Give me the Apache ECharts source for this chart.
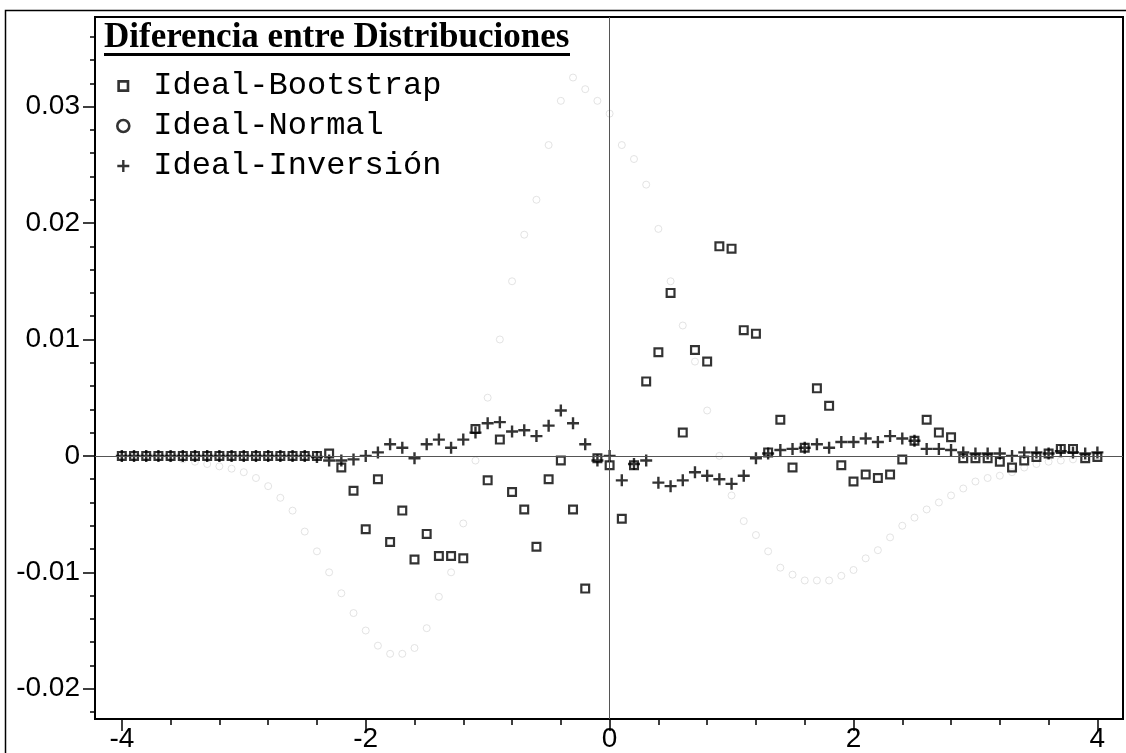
<!DOCTYPE html>
<html>
<head>
<meta charset="utf-8">
<title>Diferencia entre Distribuciones</title>
<script src="https://cdn.jsdelivr.net/npm/echarts@6/dist/echarts.min.js"></script>
<style>
  html, body { margin: 0; padding: 0; background: #fff; }
  #chart { width: 1126px; height: 753px; }
</style>
</head>
<body>
<div id="chart"></div>
<script>
// Sample grid shared by the three difference series
const xValues = [
  -4.0, -3.9, -3.8, -3.7, -3.6, -3.5, -3.4, -3.3, -3.2, -3.1,
  -3.0, -2.9, -2.8, -2.7, -2.6, -2.5, -2.4, -2.3, -2.2, -2.1,
  -2.0, -1.9, -1.8, -1.7, -1.6, -1.5, -1.4, -1.3, -1.2, -1.1,
  -1.0, -0.9, -0.8, -0.7, -0.6, -0.5, -0.4, -0.3, -0.2, -0.1,
   0.0,  0.1,  0.2,  0.3,  0.4,  0.5,  0.6,  0.7,  0.8,  0.9,
   1.0,  1.1,  1.2,  1.3,  1.4,  1.5,  1.6,  1.7,  1.8,  1.9,
   2.0,  2.1,  2.2,  2.3,  2.4,  2.5,  2.6,  2.7,  2.8,  2.9,
   3.0,  3.1,  3.2,  3.3,  3.4,  3.5,  3.6,  3.7,  3.8,  3.9,
   4.0
];

// Ideal - Bootstrap
const idealBootstrap = [
   0.0000,  0.0000,  0.0000,  0.0000,  0.0000,  0.0000,  0.0000,  0.0000,  0.0000,  0.0000,
   0.0000,  0.0000,  0.0000,  0.0000,  0.0000,  0.0000,  0.0000,  0.0002, -0.0010, -0.0030,
  -0.0063, -0.0020, -0.0074, -0.0047, -0.0089, -0.0067, -0.0086, -0.0086, -0.0088,  0.0023,
  -0.0021,  0.0014, -0.0031, -0.0046, -0.0078, -0.0020, -0.0004, -0.0046, -0.0114, -0.0002,
  -0.0008, -0.0054, -0.0008,  0.0064,  0.0089,  0.0140,  0.0020,  0.0091,  0.0081,  0.0180,
   0.0178,  0.0108,  0.0105,  0.0003,  0.0031, -0.0010,  0.0007,  0.0058,  0.0043, -0.0008,
  -0.0022, -0.0016, -0.0019, -0.0016, -0.0003,  0.0013,  0.0031,  0.0020,  0.0016, -0.0002,
  -0.0002, -0.0002, -0.0005, -0.0010, -0.0004, -0.0001,  0.0002,  0.0006,  0.0006, -0.0002,
  -0.0001
];

// Ideal - Normal
const idealNormal = [
   0.0000,  0.0000,  0.0000, -0.0001, -0.0002, -0.0003, -0.0005, -0.0007, -0.0009, -0.0011,
  -0.0014, -0.0019, -0.0026, -0.0036, -0.0047, -0.0065, -0.0082, -0.0100, -0.0118, -0.0135,
  -0.0150, -0.0163, -0.0170, -0.0170, -0.0165, -0.0148, -0.0121, -0.0100, -0.0058, -0.0004,
   0.0050,  0.0100,  0.0150,  0.0190,  0.0220,  0.0267,  0.0305,  0.0325,  0.0315,  0.0305,
   0.0294,  0.0267,  0.0255,  0.0233,  0.0195,  0.0150,  0.0112,  0.0081,  0.0039,  0.0000,
  -0.0034, -0.0056, -0.0068, -0.0082, -0.0096, -0.0102, -0.0107, -0.0107, -0.0107, -0.0103,
  -0.0098, -0.0088, -0.0081, -0.0070, -0.0060, -0.0053, -0.0046, -0.0040, -0.0034, -0.0028,
  -0.0022, -0.0019, -0.0017, -0.0014, -0.0010, -0.0007, -0.0005, -0.0004, -0.0003, -0.0001,
   0.0000
];

// Ideal - Inversión
const idealInversion = [
   0.0000,  0.0000,  0.0000,  0.0000,  0.0000,  0.0000,  0.0000,  0.0000,  0.0000,  0.0000,
   0.0000,  0.0000,  0.0000,  0.0000,  0.0000,  0.0000, -0.0001, -0.0004, -0.0004, -0.0003,
   0.0000,  0.0003,  0.0010,  0.0007, -0.0002,  0.0010,  0.0014,  0.0007,  0.0014,  0.0020,
   0.0028,  0.0029,  0.0021,  0.0022,  0.0017,  0.0026,  0.0039,  0.0028,  0.0010, -0.0004,
   0.0000, -0.0021, -0.0007, -0.0004, -0.0023, -0.0026, -0.0021, -0.0014, -0.0017, -0.0020,
  -0.0024, -0.0017, -0.0002,  0.0002,  0.0005,  0.0006,  0.0007,  0.0010,  0.0007,  0.0012,
   0.0012,  0.0015,  0.0012,  0.0017,  0.0015,  0.0013,  0.0006,  0.0006,  0.0005,  0.0003,
   0.0002,  0.0002,  0.0002,  0.0000,  0.0003,  0.0003,  0.0002,  0.0004,  0.0003,  0.0002,
   0.0003
];

const seriesNames = ['Ideal-Bootstrap', 'Ideal-Normal', 'Ideal-Inversión'];

// Axis ticks and labels
const xMajorTicks = [-4, -2, 0, 2, 4];
const xTickLabels = ['-4', '-2', '0', '2', '4'];
const xMinorTicks = [-4, -3.6, -3.2, -2.8, -2.4, -2, -1.6, -1.2, -0.8, -0.4, 0,
                     0.4, 0.8, 1.2, 1.6, 2, 2.4, 2.8, 3.2, 3.6, 4];
const yMajorTicks = [-0.02, -0.01, 0, 0.01, 0.02, 0.03];
const yTickLabels = ['-0.02', '-0.01', '0', '0.01', '0.02', '0.03'];
const yMinorTicks = [-0.022, -0.02, -0.018, -0.016, -0.014, -0.012, -0.01, -0.008, -0.006,
                     -0.004, -0.002, 0, 0.002, 0.004, 0.006, 0.008, 0.01, 0.012, 0.014,
                     0.016, 0.018, 0.02, 0.022, 0.024, 0.026, 0.028, 0.03, 0.032, 0.034, 0.036];

const X_MIN = -4.22, X_MAX = 4.21;
const Y_MIN = -0.0226, Y_MAX = 0.0377;

const pairs = (ys) => xValues.map((x, i) => [x, ys[i]]);

// hollow square and plus glyphs used as point markers
const SQUARE = 'path://M0,0H10V10H0Z M2.2,2.2V7.8H7.8V2.2H2.2Z';
const PLUS = 'path://M4,0H6V4H10V6H6V10H4V6H0V4H4Z';

const labelFont = { fontFamily: 'Liberation Sans, Arial, sans-serif', fontSize: 28, color: '#000' };

const chart = echarts.init(document.getElementById('chart'), null, { renderer: 'canvas' });

chart.setOption({
  animation: false,
  backgroundColor: '#fff',
  title: {
    text: 'Diferencia entre Distribuciones',
    left: 104,
    top: 20,
    padding: 0,
    textStyle: {
      fontFamily: 'Liberation Serif, Times New Roman, serif',
      fontWeight: 'bold',
      fontSize: 35,
      color: '#000'
    }
  },
  legend: {
    orient: 'vertical',
    left: 116,
    top: 69,
    padding: 0,
    itemWidth: 12,
    itemHeight: 12,
    itemGap: 6,
    selectedMode: false,
    textStyle: {
      fontFamily: 'Liberation Mono, Courier New, monospace',
      fontSize: 32,
      lineHeight: 34,
      color: '#000',
      padding: [0, 0, 0, 19]
    },
    data: [
      { name: seriesNames[0], icon: SQUARE, itemStyle: { color: '#000', borderWidth: 0 } },
      { name: seriesNames[1], icon: 'circle', itemStyle: { color: 'rgba(0,0,0,0)', borderColor: '#000', borderWidth: 2.6 } },
      { name: seriesNames[2], icon: PLUS, itemStyle: { color: '#000', borderWidth: 0 } }
    ]
  },
  graphic: [
    // outer figure frame
    { type: 'rect', silent: true, z: 100,
      shape: { x: 5.5, y: 10.5, width: 1300, height: 900 },
      style: { fill: 'none', stroke: '#000', lineWidth: 1.5 } },
    // title underline
    { type: 'rect', silent: true, z: 100,
      shape: { x: 104, y: 53, width: 466, height: 3 },
      style: { fill: '#000' } }
  ],
  grid: {
    left: 95, right: 3, top: 17, bottom: 31,
    show: true, borderColor: '#000', borderWidth: 2,
    containLabel: false
  },
  xAxis: [
    {
      type: 'value', min: X_MIN, max: X_MAX, position: 'bottom',
      axisLine: { show: true, onZero: false, lineStyle: { color: '#000', width: 2 } },
      axisTick: { show: true, inside: false, length: 12, customValues: xMajorTicks,
                  lineStyle: { color: '#000', width: 1.5 } },
      axisLabel: { show: true, customValues: xMajorTicks, margin: 6,
                   formatter: (v) => xTickLabels[xMajorTicks.indexOf(v)] ?? '',
                   ...labelFont },
      splitLine: { show: false }
    },
    {
      type: 'value', min: X_MIN, max: X_MAX, position: 'bottom',
      axisLine: { show: false, onZero: false },
      axisTick: { show: true, inside: false, length: 6, customValues: xMinorTicks,
                  lineStyle: { color: '#000', width: 1.5 } },
      axisLabel: { show: false },
      splitLine: { show: false }
    }
  ],
  yAxis: [
    {
      type: 'value', min: Y_MIN, max: Y_MAX, position: 'left',
      axisLine: { show: true, onZero: false, lineStyle: { color: '#000', width: 2 } },
      axisTick: { show: true, inside: false, length: 12, customValues: yMajorTicks,
                  lineStyle: { color: '#000', width: 1.5 } },
      axisLabel: { show: true, customValues: yMajorTicks, margin: 15,
                   formatter: (v) => yTickLabels[yMajorTicks.findIndex(t => Math.abs(t - v) < 1e-9)] ?? '',
                   ...labelFont },
      splitLine: { show: false }
    },
    {
      type: 'value', min: Y_MIN, max: Y_MAX, position: 'left',
      axisLine: { show: false, onZero: false },
      axisTick: { show: true, inside: false, length: 5, customValues: yMinorTicks,
                  lineStyle: { color: '#000', width: 1.5 } },
      axisLabel: { show: false },
      splitLine: { show: false }
    }
  ],
  series: [
    {
      name: seriesNames[1],
      type: 'scatter',
      data: pairs(idealNormal),
      symbol: 'circle',
      symbolSize: 7,
      itemStyle: { color: 'rgba(0,0,0,0)', borderColor: '#dcdcdc', borderWidth: 1 },
      z: 2,
      markLine: {
        silent: true,
        symbol: ['none', 'none'],
        label: { show: false },
        lineStyle: { color: '#555', width: 1, type: 'solid' },
        data: [{ yAxis: 0 }, { xAxis: 0 }]
      }
    },
    {
      name: seriesNames[0],
      type: 'scatter',
      data: pairs(idealBootstrap),
      symbol: SQUARE,
      symbolSize: 10,
      itemStyle: { color: '#000' },
      z: 3
    },
    {
      name: seriesNames[2],
      type: 'scatter',
      data: pairs(idealInversion),
      symbol: PLUS,
      symbolSize: 12,
      itemStyle: { color: '#000' },
      z: 4
    }
  ]
});
</script>
</body>
</html>
